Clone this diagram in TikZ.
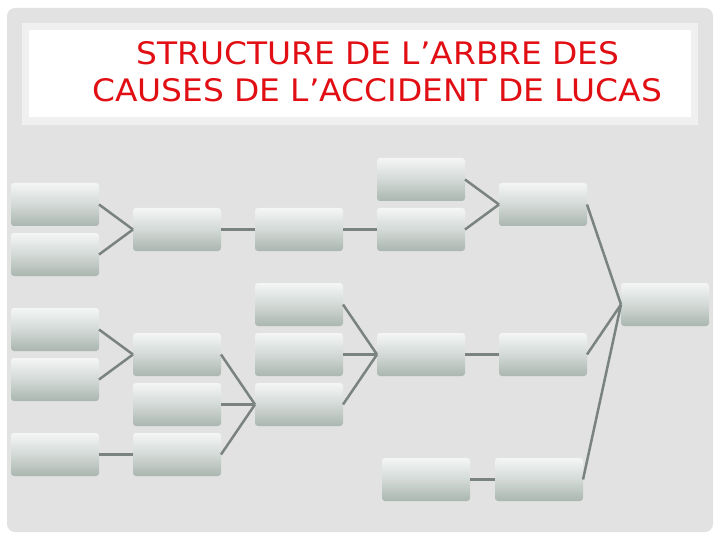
\documentclass[tikz,border=0pt]{standalone}
\usepackage{fontspec}
\setmainfont{DejaVu Sans}
\newfontfamily\ttlfont[FakeStretch=1.06]{DejaVu Sans}
\definecolor{bgray}{RGB}{226,226,226}
\definecolor{rimgray}{RGB}{240,240,240}
\definecolor{titlered}{RGB}{225,15,20}
\definecolor{boxtop}{RGB}{244,246,245}
\definecolor{boxbot}{RGB}{170,182,176}
\definecolor{linegray}{RGB}{122,131,127}
\tikzset{
  cbox/.style={rectangle, rounded corners=3pt, minimum width=88pt, minimum height=43pt,
    inner sep=0pt, outer sep=0pt, top color=boxtop, bottom color=boxbot, middle color=boxbot!45!boxtop},
  link/.style={draw=linegray, line width=2.5pt},
  ttl/.style={text=titlered, font=\ttlfont\fontsize{31}{33}\selectfont, inner sep=0pt, anchor=base}
}
\begin{document}
\begin{tikzpicture}[x=1pt,y=-1pt]
\useasboundingbox (0,0) rectangle (720,540);
\fill[white] (0,0) rectangle (720,540);
\fill[bgray, rounded corners=8pt] (7,8) rectangle (713,532);
\fill[rimgray] (22,23) rectangle (698,125);
\fill[white] (29,30) rectangle (691,117);
\node[ttl] (t1) at (378,65) {STRUCTURE DE L’ARBRE DES};
\node[ttl] (t2) at (377,102) {CAUSES DE L’ACCIDENT DE LUCAS};
% column 1
\node[cbox] (a1) at (55,204.5) {};
\node[cbox] (a2) at (55,254.5) {};
\node[cbox] (a3) at (55,329.5) {};
\node[cbox] (a4) at (55,379.5) {};
\node[cbox] (a5) at (55,454.5) {};
% column 2
\node[cbox] (b1) at (177,229.5) {};
\node[cbox] (b2) at (177,354.5) {};
\node[cbox] (b3) at (177,404.5) {};
\node[cbox] (b4) at (177,454.5) {};
% column 3
\node[cbox] (c1) at (299,229.5) {};
\node[cbox] (c2) at (299,304.5) {};
\node[cbox] (c3) at (299,354.5) {};
\node[cbox] (c4) at (299,404.5) {};
% column 4
\node[cbox] (d1) at (421,179.5) {};
\node[cbox] (d2) at (421,229.5) {};
\node[cbox] (d3) at (421,354.5) {};
\node[cbox] (d4) at (426,479.5) {};
% column 5
\node[cbox] (e1) at (543,204.5) {};
\node[cbox] (e2) at (543,354.5) {};
\node[cbox] (e3) at (539,479.5) {};
% final
\node[cbox] (f) at (665,304.5) {};
% connectors
\draw[link] (a1.east) -- (b1.west);
\draw[link] (a2.east) -- (b1.west);
\draw[link] (b1.east) -- (c1.west);
\draw[link] (c1.east) -- (d2.west);
\draw[link] (d1.east) -- (e1.west);
\draw[link] (d2.east) -- (e1.west);
\draw[link] (e1.east) -- (f.west);
\draw[link] (a3.east) -- (b2.west);
\draw[link] (a4.east) -- (b2.west);
\draw[link] (a5.east) -- (b4.west);
\draw[link] (b2.east) -- (c4.west);
\draw[link] (b3.east) -- (c4.west);
\draw[link] (b4.east) -- (c4.west);
\draw[link] (c2.east) -- (d3.west);
\draw[link] (c3.east) -- (d3.west);
\draw[link] (c4.east) -- (d3.west);
\draw[link] (d3.east) -- (e2.west);
\draw[link] (e2.east) -- (f.west);
\draw[link] (d4.east) -- (e3.west);
\draw[link] (e3.east) -- (f.west);
\end{tikzpicture}
\end{document}
